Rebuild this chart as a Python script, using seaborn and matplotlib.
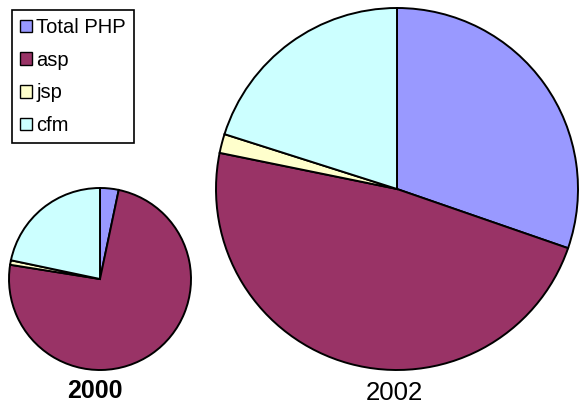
import matplotlib
matplotlib.use("Agg")
import matplotlib.pyplot as plt
import seaborn as sns
from matplotlib.patches import Patch

# Data (shares in percent)
labels = ["Total PHP", "asp", "jsp", "cfm"]
share_2000 = [3.3, 74.2, 0.8, 21.7]
share_2002 = [30.3, 47.9, 1.7, 20.1]
years = ["2000", "2002"]
colors = ["#9999FF", "#993366", "#FFFFCC", "#CCFFFF"]

sns.set_theme(style="white")
plt.rcParams["font.family"] = ["Liberation Sans", "DejaVu Sans"]
plt.rcParams["text.color"] = "black"

fig = plt.figure(figsize=(5.79, 4.05), dpi=100)
ax = fig.add_axes([0, 0, 1, 1])

wedge_style = {"edgecolor": "black", "linewidth": 1.4}

# 2000 pie (small)
ax.pie(share_2000, colors=colors, startangle=90, counterclock=False,
       center=(100, 126), radius=91, wedgeprops=wedge_style, frame=True)
# 2002 pie (large)
ax.pie(share_2002, colors=colors, startangle=90, counterclock=False,
       center=(397, 216), radius=181, wedgeprops=wedge_style, frame=True)
ax.set_xlim(0, 579)
ax.set_ylim(0, 405)
ax.set_aspect("equal")
ax.axis("off")

ax.text(95, 14, years[0], ha="center", va="center", fontsize=18, fontweight="bold", color="black")
ax.text(394, 12, years[1], ha="center", va="center", fontsize=18.5, color="black")

handles = [Patch(facecolor=c, edgecolor="black", linewidth=1.0) for c in colors]
leg = fig.legend(handles, labels, loc="upper left", bbox_to_anchor=(12 / 579, 1 - 10 / 405),
                 fontsize=14.5, frameon=True, fancybox=False, edgecolor="black",
                 framealpha=1, borderaxespad=0, handlelength=0.6, handleheight=0.6,
                 handletextpad=0.2, labelspacing=0.68, borderpad=0.4)
leg.get_frame().set_linewidth(1.2)
for t in leg.get_texts():
    t.set_color("black")

fig.savefig("out.png", dpi=100, facecolor="white")
